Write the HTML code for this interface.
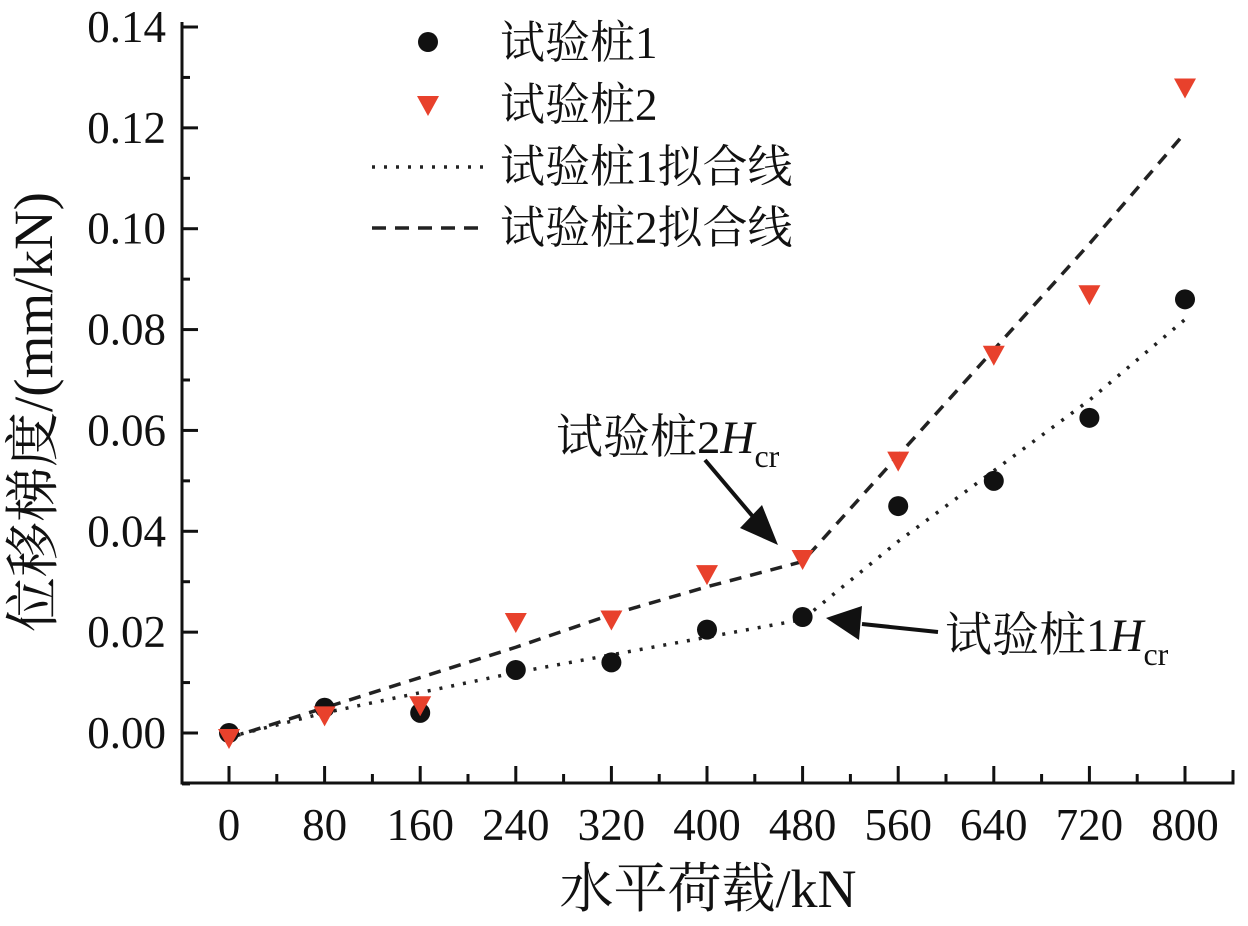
<!DOCTYPE html>
<html><head><meta charset="utf-8"><style>
html,body{margin:0;padding:0;background:#fff;}
svg{display:block;font-family:"Liberation Serif","Noto Serif CJK SC",serif;}
</style></head><body>
<svg id="chart" width="1248" height="926" viewBox="0 0 1248 926" xmlns="http://www.w3.org/2000/svg"></svg>
<script>
const categories=[0,80,160,240,320,400,480,560,640,720,800];
const pile1=[0,0.005,0.004,0.0125,0.014,0.0205,0.023,0.045,0.050,0.0625,0.086];
const pile2=[-0.001,0.0035,0.0055,0.022,0.0225,0.0315,0.0345,0.054,0.075,0.087,0.128];
const fit1=[-0.0008,0.004,0.008,0.012,0.0155,0.019,0.0225,0.038,0.052,0.066,0.082];
const fit2=[-0.001,0.005,0.011,0.017,0.0235,0.029,0.034,0.055,0.076,0.097,0.119];
const yTicks=["0.00","0.02","0.04","0.06","0.08","0.10","0.12","0.14"];
const xTicks=["0","80","160","240","320","400","480","560","640","720","800"];

const NS="http://www.w3.org/2000/svg";
const svg=document.getElementById('chart');
const X=v=>229+(v/800)*(1185-229);
const Y=v=>733-(v/0.14)*(733-27);
function mk(t,a,p){const e=document.createElementNS(NS,t);for(const k in a)e.setAttribute(k,a[k]);(p||svg).appendChild(e);return e;}

const ax=mk('path',{d:'M182,22 L182,783 L1233,783 L1233,770',fill:'none',stroke:'#111','stroke-width':3});


yTicks.forEach((t,i)=>{
  const v=parseFloat(t),y=Y(v);
  const tk=mk('line',{x1:182,x2:198,y1:y,y2:y,stroke:'#111','stroke-width':3});
  
  
  if(i<yTicks.length-1){const m=mk('line',{x1:182,x2:190,y1:Y(v+0.01),y2:Y(v+0.01),stroke:'#111','stroke-width':3});
    
    }
  const lb=mk('text',{x:166,y:y+15,'text-anchor':'end','font-size':45,fill:'#111'});lb.textContent=t;
  
  
});
const m0=mk('line',{x1:182,x2:190,y1:Y(-0.01)+1,y2:Y(-0.01)+1,stroke:'#111','stroke-width':2});


xTicks.forEach((t,i)=>{
  const v=parseFloat(t),x=X(v);
  const tk=mk('line',{x1:x,x2:x,y1:783,y2:766,stroke:'#111','stroke-width':3});
  
  
  if(i<xTicks.length-1){const m=mk('line',{x1:X(v+40),x2:X(v+40),y1:783,y2:774,stroke:'#111','stroke-width':3});
    
    }
  const lb=mk('text',{x:x,y:840,'text-anchor':'middle','font-size':45,fill:'#111'});lb.textContent=t;
  
  
});
function poly(arr){return categories.map((c,i)=>X(c)+','+Y(arr[i])).join(' ');}
const f1=mk('polyline',{points:poly(fit1),fill:'none',stroke:'#222','stroke-width':3.5,'stroke-dasharray':'3 9'});


const f2=mk('polyline',{points:poly(fit2),fill:'none',stroke:'#222','stroke-width':3.5,'stroke-dasharray':'12 9'});


categories.forEach((c,i)=>{
  const d=mk('circle',{cx:X(c),cy:Y(pile1[i]),r:10,fill:'#111'});
  
  
});
categories.forEach((c,i)=>{
  const x=X(c),y=Y(pile2[i]);
  const t=mk('polygon',{points:`${x-11},${y-9} ${x+11},${y-9} ${x},${y+11}`,fill:'#e8412c'});
  
  
});
const lg=mk('g',{});


mk('circle',{cx:428,cy:42,r:10,fill:'#111'},lg);
mk('polygon',{points:'417,96 439,96 428,116',fill:'#e8412c'},lg);
mk('line',{x1:372,x2:487,y1:167,y2:167,stroke:'#222','stroke-width':3.5,'stroke-dasharray':'3 9'},lg);
mk('line',{x1:372,x2:487,y1:228,y2:228,stroke:'#222','stroke-width':3.5,'stroke-dasharray':'14 9'},lg);
[['试验桩1',58],['试验桩2',120],['试验桩1拟合线',182],['试验桩2拟合线',243]].forEach(([s,y])=>{
  const t=mk('text',{x:500,y:y,'font-size':45,fill:'#111'},lg);t.textContent=s;
  
  
});
const a2=mk('text',{x:556,y:453,'font-size':47,fill:'#111'});


a2.innerHTML='试验桩2<tspan font-style="italic">H</tspan><tspan font-size="32" dy="14">cr</tspan>';
const a1=mk('text',{x:945,y:651,'font-size':47,fill:'#111'});


a1.innerHTML='试验桩1<tspan font-style="italic">H</tspan><tspan font-size="32" dy="14">cr</tspan>';
const ar2=mk('g',{});


mk('line',{x1:705,y1:460,x2:760,y2:525,stroke:'#111','stroke-width':4},ar2);
mk('polygon',{points:'778,545 740,528 762,505',fill:'#111'},ar2);
const ar1=mk('g',{});


mk('line',{x1:862,y1:624,x2:938,y2:632,stroke:'#111','stroke-width':4},ar1);
mk('polygon',{points:'826,618 862,606 859,640',fill:'#111'},ar1);
const xt=mk('text',{x:708,y:907,'text-anchor':'middle','font-size':54,fill:'#111'});xt.textContent='水平荷载/kN';


const yt=mk('text',{x:0,y:0,'text-anchor':'middle','font-size':55,fill:'#111',transform:'translate(52,412) rotate(-90)'});yt.textContent='位移梯度/(mm/kN)';


</script>
</body></html>
